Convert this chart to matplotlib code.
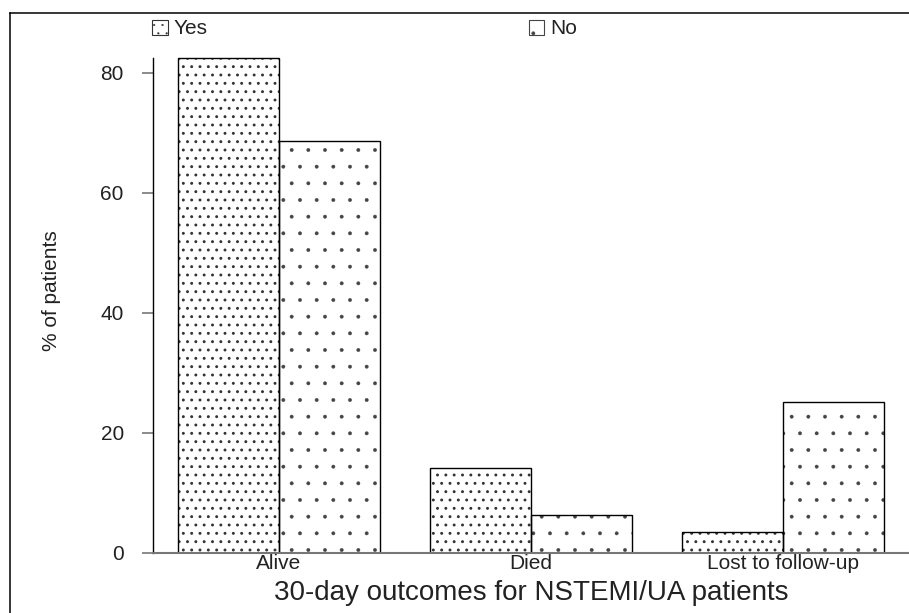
#import libraries
import matplotlib
matplotlib.use('Agg')
import matplotlib.pyplot as plt
from matplotlib.lines import Line2D
from matplotlib.patches import Patch
import numpy as np

#data
categories = ['Alive', 'Died', 'Lost to follow-up']
yes_pct = [82.5, 14.2, 3.5]
no_pct = [68.7, 6.3, 25.2]
yticks = [0, 20, 40, 60, 80]

#styling
plt.rcParams['font.family'] = ['Liberation Sans', 'DejaVu Sans']
TEXT = '#222222'
YES_HATCH = '..'
NO_HATCH = '.'

fig = plt.figure(figsize=(9.09, 6.13), dpi=100)
W, H = 909, 613
ax = fig.add_axes([153 / W, 60 / H, 756 / W, 540 / H])

x = np.arange(len(categories))
bw = 0.4

#hatched fills (hatch width is picked up when each patch is made)
plt.rcParams['hatch.linewidth'] = 0.9
ax.bar(x - bw / 2, yes_pct, bw, facecolor='white', edgecolor='#333333',
       linewidth=0, hatch=YES_HATCH)
yes_h = Patch(facecolor='white', edgecolor='#333333', linewidth=0.8,
              hatch=YES_HATCH, label='Yes')
plt.rcParams['hatch.linewidth'] = 0.3
ax.bar(x + bw / 2, no_pct, bw, facecolor='white', edgecolor='#444444',
       linewidth=0, hatch=NO_HATCH)
no_h = Patch(facecolor='white', edgecolor='#444444', linewidth=0.8,
             hatch=NO_HATCH, label='No')

#black outlines on top
ax.bar(x - bw / 2, yes_pct, bw, fill=False, edgecolor='black', linewidth=1.0)
ax.bar(x + bw / 2, no_pct, bw, fill=False, edgecolor='black', linewidth=1.0)

ax.set_xlim(-0.5, 2.5)
ax.set_ylim(0, 90)

#spines
ax.spines['top'].set_visible(False)
ax.spines['right'].set_visible(False)
ax.spines['left'].set_bounds(0, max(yes_pct))
ax.spines['left'].set_linewidth(1.0)
ax.spines['bottom'].set_color('#777777')
ax.spines['bottom'].set_linewidth(1.5)

#ticks
ax.set_xticks(x)
ax.set_xticklabels(categories, fontsize=15, color=TEXT)
ax.tick_params(axis='x', length=0, pad=1)
ax.set_yticks(yticks)
ax.set_yticklabels([str(t) for t in yticks], fontsize=15, color=TEXT)
ax.tick_params(axis='y', length=8, width=1.2, color='#777777', pad=13)

#labels
ax.text(-0.134, 0.485, '% of patients', rotation=90, ha='center', va='center',
        fontsize=15, color=TEXT, transform=ax.transAxes)
ax.text(0.5, -0.087, '30-day outcomes for NSTEMI/UA patients', ha='center',
        va='baseline', fontsize=20, color=TEXT, transform=ax.transAxes)

#legend
fig.legend(handles=[yes_h, no_h], loc='center left',
           bbox_to_anchor=(152 / W, 1 - 29 / H), ncol=2, frameon=False,
           fontsize=15, borderpad=0, borderaxespad=0, handlelength=0.75,
           handleheight=0.75, handletextpad=0.3, columnspacing=15.4,
           labelcolor=TEXT)

#figure frame (top and left only)
fig.add_artist(Line2D([10 / W, 1], [1 - 13 / H, 1 - 13 / H], color='black',
                      linewidth=1.1, transform=fig.transFigure))
fig.add_artist(Line2D([10 / W, 10 / W], [0, 1 - 13 / H], color='black',
                      linewidth=1.1, transform=fig.transFigure))

fig.savefig('out.png', dpi=100)
